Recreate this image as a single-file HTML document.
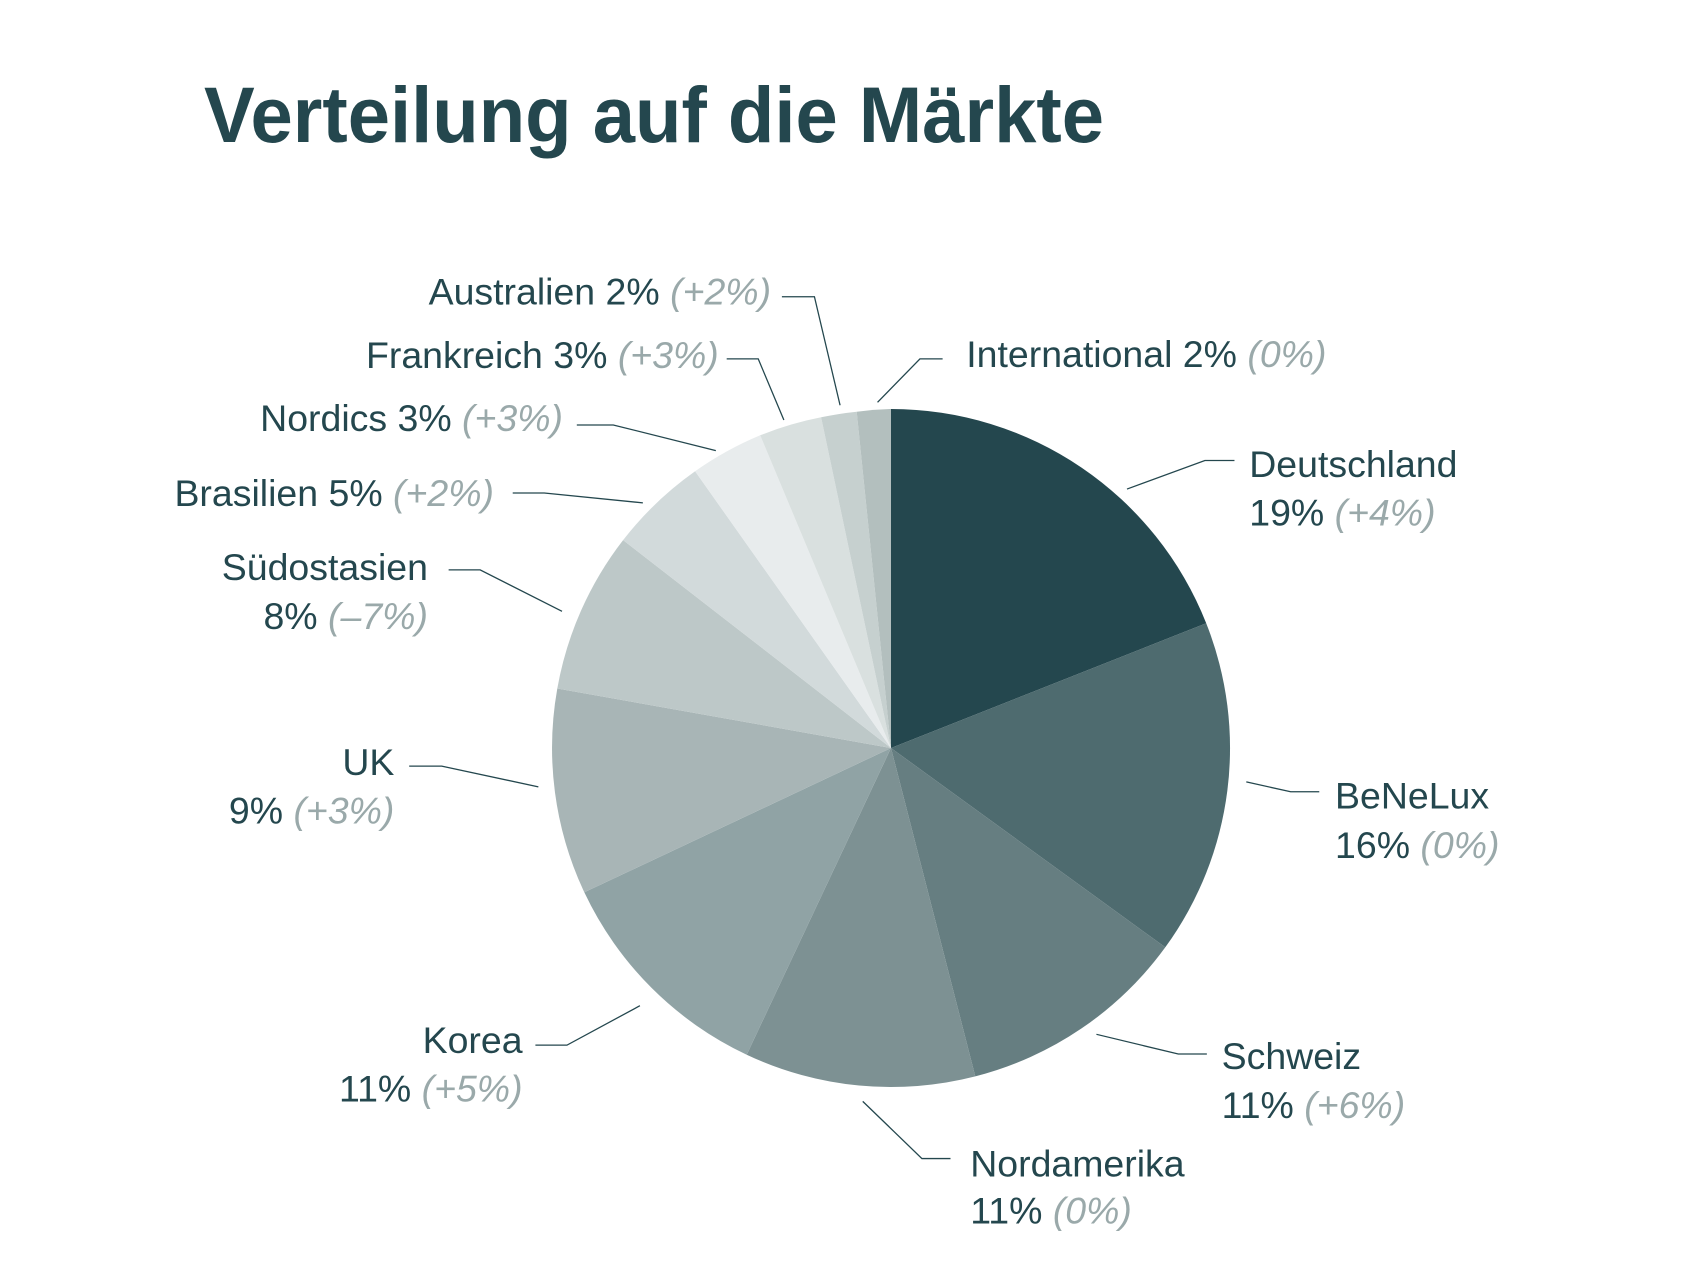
<!DOCTYPE html>
<html><head><meta charset="utf-8"><style>
html,body{margin:0;padding:0;background:#fff;}
svg{display:block;}
text{font-family:"Liberation Sans",sans-serif;}
.l{font-size:38px;fill:#24474e;}
.g{fill:#9aa9aa;font-style:italic;}
.ln{stroke:#24474e;stroke-width:1.3;fill:none;}
</style></head><body>
<svg width="1706" height="1280" viewBox="0 0 1706 1280" xmlns="http://www.w3.org/2000/svg">
<text x="204" y="142" font-size="79" font-weight="bold" fill="#24474e" textLength="900" lengthAdjust="spacingAndGlyphs">Verteilung auf die Märkte</text>
<g stroke="none">
<path d="M891,748 L891,409 A339,339 0 0 1 1206.2,623.2 Z" fill="#24474e"/>
<path d="M891,748 L1206.2,623.2 A339,339 0 0 1 1165.3,947.3 Z" fill="#4e6b6f"/>
<path d="M891,748 L1165.3,947.3 A339,339 0 0 1 975.3,1076.4 Z" fill="#667e81"/>
<path d="M891,748 L975.3,1076.4 A339,339 0 0 1 746.7,1054.7 Z" fill="#7d9193"/>
<path d="M891,748 L746.7,1054.7 A339,339 0 0 1 584.3,892.3 Z" fill="#90a3a5"/>
<path d="M891,748 L584.3,892.3 A339,339 0 0 1 557.3,688.5 Z" fill="#a8b5b6"/>
<path d="M891,748 L557.3,688.5 A339,339 0 0 1 623.1,540.1 Z" fill="#bdc8c8"/>
<path d="M891,748 L623.1,540.1 A339,339 0 0 1 695.1,471.3 Z" fill="#d2dadb"/>
<path d="M891,748 L695.1,471.3 A339,339 0 0 1 760.2,435.3 Z" fill="#e8eced"/>
<path d="M891,748 L760.2,435.3 A339,339 0 0 1 821.1,417.3 Z" fill="#d9e0df"/>
<path d="M891,748 L821.1,417.3 A339,339 0 0 1 856.7,411.7 Z" fill="#c6d0cf"/>
<path d="M891,748 L856.7,411.7 A339,339 0 0 1 891,409 Z" fill="#b3bfbe"/>
</g>
<g transform="scale(0.986)">
<polyline class="ln" points="793,301 826,301 852,411"/>
<polyline class="ln" points="737,364 769,364 795,426"/>
<polyline class="ln" points="956,364 933,364 890,408"/>
<polyline class="ln" points="585,431 622,431 726,457"/>
<polyline class="ln" points="520,500 552,500 652,510"/>
<polyline class="ln" points="455,578 487,578 570,620"/>
<polyline class="ln" points="415,777 448,777 546,798"/>
<polyline class="ln" points="543,1060 575,1060 649,1020"/>
<polyline class="ln" points="964,1175 935,1175 875,1117"/>
<polyline class="ln" points="1224,1069 1195,1069 1112,1049"/>
<polyline class="ln" points="1338,803 1309,803 1264,793"/>
<polyline class="ln" points="1252,467 1222,467 1143,496"/>
<g class="l">
<text x="782" y="309" text-anchor="end">Australien 2% <tspan class="g">(+2%)</tspan></text>
<text x="729" y="373" text-anchor="end">Frankreich 3% <tspan class="g">(+3%)</tspan></text>
<text x="980" y="372">International 2% <tspan class="g">(0%)</tspan></text>
<text x="571" y="437" text-anchor="end">Nordics 3% <tspan class="g">(+3%)</tspan></text>
<text x="501" y="513" text-anchor="end">Brasilien 5% <tspan class="g">(+2%)</tspan></text>
<text x="434" y="588" text-anchor="end">Südostasien</text>
<text x="434" y="638" text-anchor="end">8% <tspan class="g">(–7%)</tspan></text>
<text x="400" y="786" text-anchor="end">UK</text>
<text x="400" y="835" text-anchor="end">9% <tspan class="g">(+3%)</tspan></text>
<text x="530" y="1068" text-anchor="end">Korea</text>
<text x="530" y="1117" text-anchor="end">11% <tspan class="g">(+5%)</tspan></text>
<text x="984" y="1193">Nordamerika</text>
<text x="984" y="1241">11% <tspan class="g">(0%)</tspan></text>
<text x="1239" y="1084">Schweiz</text>
<text x="1239" y="1134">11% <tspan class="g">(+6%)</tspan></text>
<text x="1354" y="820">BeNeLux</text>
<text x="1354" y="870">16% <tspan class="g">(0%)</tspan></text>
<text x="1267" y="484">Deutschland</text>
<text x="1267" y="533">19% <tspan class="g">(+4%)</tspan></text>
</g>
</g>
</svg>
</body></html>
